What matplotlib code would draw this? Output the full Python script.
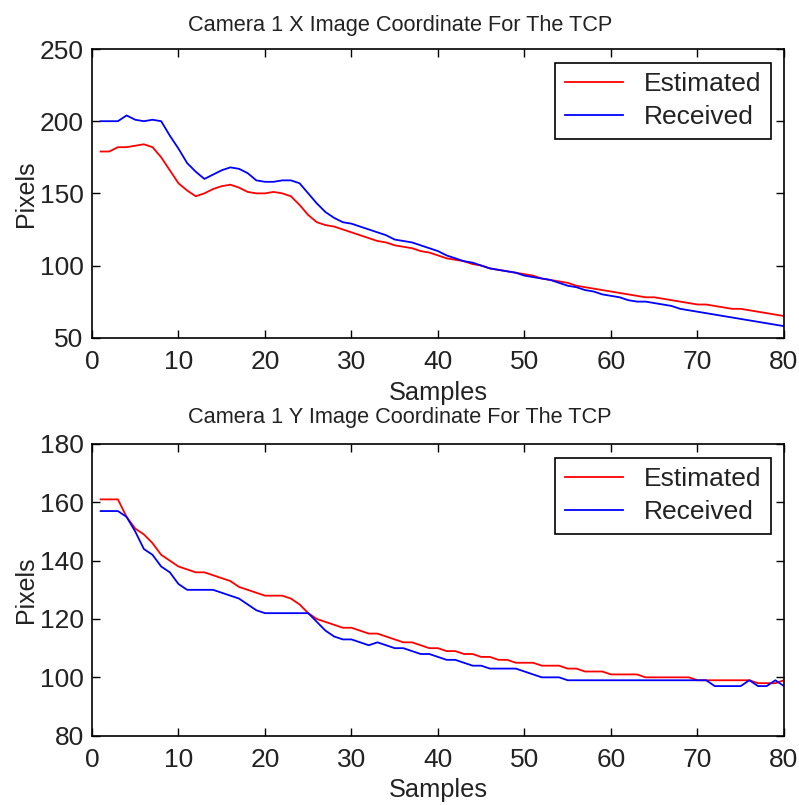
import matplotlib
matplotlib.use("Agg")
import matplotlib.pyplot as plt

samples = list(range(1, 81))

x_estimated = [179, 179, 182, 182, 183, 184, 182, 175, 166, 157,
               152, 148, 150, 153, 155, 156, 154, 151, 150, 150,
               151, 150, 148, 142, 135, 130, 128, 127, 125, 123,
               121, 119, 117, 116, 114, 113, 112, 110, 109, 107,
               105, 104, 103, 101, 100, 98, 97, 96, 95, 94,
               93, 91, 90, 89, 88, 86, 85, 84, 83, 82,
               81, 80, 79, 78, 78, 77, 76, 75, 74, 73,
               73, 72, 71, 70, 70, 69, 68, 67, 66, 65]
x_received = [200, 200, 200, 204, 201, 200, 201, 200, 190, 181,
              171, 165, 160, 163, 166, 168, 167, 164, 159, 158,
              158, 159, 159, 157, 150, 143, 137, 133, 130, 129,
              127, 125, 123, 121, 118, 117, 116, 114, 112, 110,
              107, 105, 103, 102, 100, 98, 97, 96, 95, 93,
              92, 91, 90, 88, 86, 85, 83, 82, 80, 79,
              78, 76, 75, 75, 74, 73, 72, 70, 69, 68,
              67, 66, 65, 64, 63, 62, 61, 60, 59, 58]
y_estimated = [161, 161, 161, 155, 151, 149, 146, 142, 140, 138,
               137, 136, 136, 135, 134, 133, 131, 130, 129, 128,
               128, 128, 127, 125, 122, 120, 119, 118, 117, 117,
               116, 115, 115, 114, 113, 112, 112, 111, 110, 110,
               109, 109, 108, 108, 107, 107, 106, 106, 105, 105,
               105, 104, 104, 104, 103, 103, 102, 102, 102, 101,
               101, 101, 101, 100, 100, 100, 100, 100, 100, 99,
               99, 99, 99, 99, 99, 99, 98, 98, 98, 99]
y_received = [157, 157, 157, 155, 150, 144, 142, 138, 136, 132,
              130, 130, 130, 130, 129, 128, 127, 125, 123, 122,
              122, 122, 122, 122, 122, 119, 116, 114, 113, 113,
              112, 111, 112, 111, 110, 110, 109, 108, 108, 107,
              106, 106, 105, 104, 104, 103, 103, 103, 103, 102,
              101, 100, 100, 100, 99, 99, 99, 99, 99, 99,
              99, 99, 99, 99, 99, 99, 99, 99, 99, 99,
              99, 97, 97, 97, 97, 99, 97, 97, 99, 97]

titles = ["Camera 1 X Image Coordinate For The TCP",
          "Camera 1 Y Image Coordinate For The TCP"]
xlabel = "Samples"
ylabel = "Pixels"
legend_labels = ["Estimated", "Received"]
xticks = [0, 10, 20, 30, 40, 50, 60, 70, 80]
yticks_top = [50, 100, 150, 200, 250]
yticks_bot = [80, 100, 120, 140, 160, 180]

FONT = ['Liberation Sans Narrow', 'Liberation Sans', 'DejaVu Sans']
plt.rcParams['font.family'] = FONT
txt = '#222222'

fig = plt.figure(figsize=(7.99, 8.05), dpi=100)
ax1 = fig.add_axes([0.1151, 0.5805, 0.8661, 0.3586])
ax2 = fig.add_axes([0.1151, 0.0861, 0.8661, 0.3624])

panels = [
    (ax1, x_estimated, x_received, titles[0], yticks_top, 13, 5),
    (ax2, y_estimated, y_received, titles[1], yticks_bot, 15, 4),
]
for ax, est, rec, title, yt, tpad, lpad in panels:
    ax.plot(samples, est, color='#ff0000', lw=1.3, label=legend_labels[0])
    ax.plot(samples, rec, color='#0000ff', lw=1.3, label=legend_labels[1])
    ax.set_xlim(xticks[0], xticks[-1])
    ax.set_ylim(yt[0], yt[-1])
    ax.set_xticks(xticks)
    ax.set_yticks(yt)
    ax.tick_params(direction='in', length=6, width=1, top=True, right=True,
                   labelsize=19, colors='black', labelcolor=txt)
    ax.tick_params(axis='x', pad=9)
    ax.tick_params(axis='y', pad=6)
    for s in ax.spines.values():
        s.set_linewidth(1.2)
        s.set_color('black')
    ax.set_title(title, fontsize=15.7, color=txt, pad=tpad, x=0.445)
    ax.set_xlabel(xlabel, fontsize=18.3, color=txt, labelpad=lpad)
    ax.set_ylabel(ylabel, fontsize=18, color=txt, labelpad=1)
    leg = ax.legend(loc='upper right', bbox_to_anchor=(0.981, 0.953),
                    borderaxespad=0, fancybox=False, shadow=False,
                    framealpha=1, edgecolor='black', fontsize=19,
                    handlelength=2.2, handletextpad=0.8, borderpad=0.36,
                    labelspacing=0.34)
    leg.get_frame().set_linewidth(1.2)
    for t in leg.get_texts():
        t.set_color(txt)

fig.savefig('out.png', dpi=100)
